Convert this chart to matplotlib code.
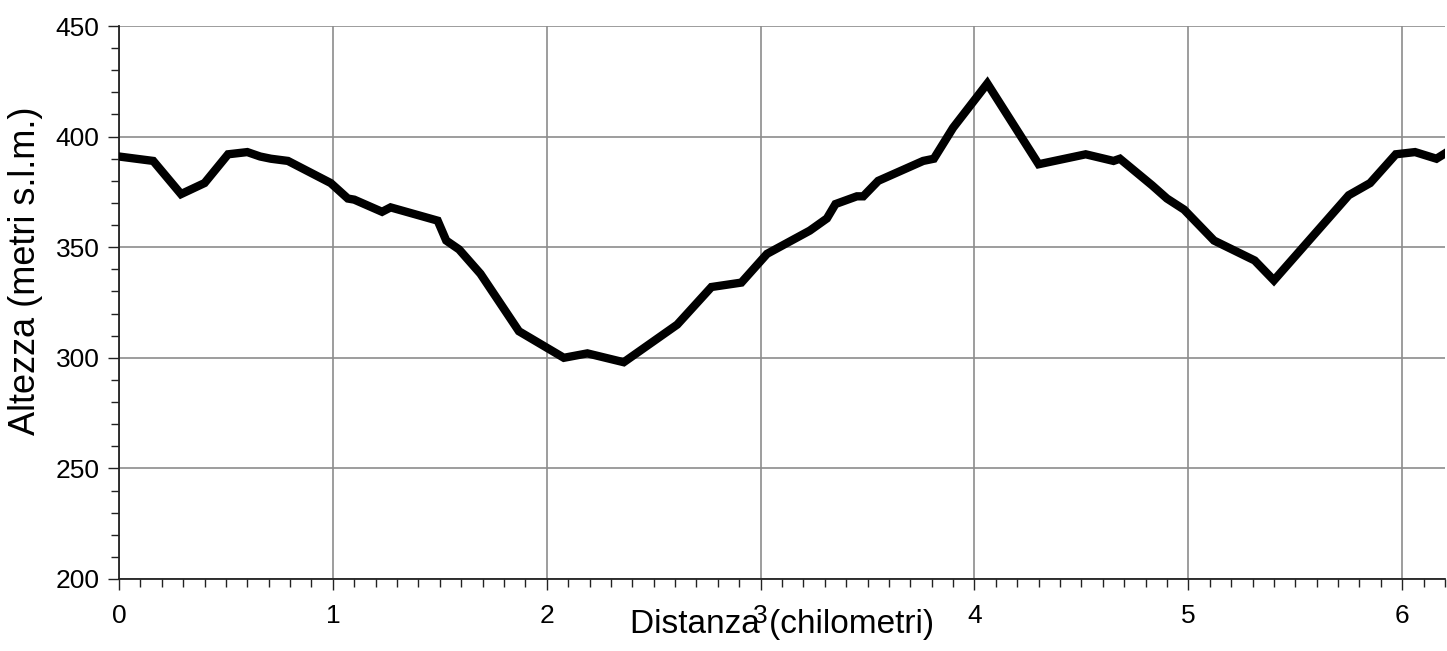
import matplotlib
matplotlib.use("Agg")
import matplotlib.pyplot as plt
from matplotlib.ticker import MultipleLocator

distance_km = [0, 0.16, 0.29, 0.40, 0.51, 0.60, 0.66, 0.71, 0.79, 0.99, 1.07, 1.10,
               1.23, 1.27, 1.49, 1.53, 1.59, 1.69, 1.87, 2.08, 2.19, 2.36, 2.61, 2.77,
               2.91, 3.03, 3.23, 3.31, 3.35, 3.45, 3.48, 3.55, 3.76, 3.81, 3.90, 4.06,
               4.30, 4.52, 4.65, 4.68, 4.83, 4.90, 4.98, 5.12, 5.31, 5.40, 5.75, 5.85,
               5.97, 6.06, 6.16, 6.21]
altitude_m = [391, 389, 374, 379, 392, 393, 391, 390, 389, 379, 372, 371.5,
              366, 368, 362, 353, 349, 338, 312, 300, 302, 298, 315, 332,
              334, 347, 357.5, 363, 369.5, 373, 373, 380, 389, 390, 404, 424,
              387.5, 392, 389, 390, 378, 372, 367, 353, 344, 335, 373.5, 379,
              392, 393, 390, 393]

x_ticks = [0, 1, 2, 3, 4, 5, 6]
y_ticks = [200, 250, 300, 350, 400, 450]

plt.rcParams['font.family'] = ['Liberation Sans', 'DejaVu Sans']

fig = plt.figure(figsize=(14.47, 6.51), dpi=100)
ax = fig.add_axes([119/1447, (651-579)/651, (1445-119)/1447, (579-26)/651])

ax.plot(distance_km, altitude_m, color='black', linewidth=6, solid_joinstyle='miter', zorder=3)

ax.set_xlim(0, 6.2)
ax.set_ylim(200, 450)
ax.set_xticks(x_ticks)
ax.set_yticks(y_ticks)
ax.xaxis.set_minor_locator(MultipleLocator(0.1))
ax.yaxis.set_minor_locator(MultipleLocator(10))

ax.grid(True, which='major', color='#8c8c8c', linewidth=1.2)
ax.set_axisbelow(True)

for s in ['top', 'right']:
    ax.spines[s].set_visible(False)
for s in ['left', 'bottom']:
    ax.spines[s].set_linewidth(1.3)
    ax.spines[s].set_color('#222222')

ax.tick_params(which='major', length=8, width=1.0, labelsize=19, direction='out', color='#222222')
ax.tick_params(which='minor', length=6, width=1.0, direction='out', color='#222222')
ax.tick_params(axis='x', which='major', pad=10)
ax.tick_params(axis='y', which='major', pad=6)

ax.set_xlabel('Distanza (chilometri)', fontsize=24, labelpad=-14)
ax.set_ylabel('Altezza (metri s.l.m.)', fontsize=26)
ax.yaxis.set_label_coords(-0.057, 0.557)

fig.savefig('out.png', dpi=100)
